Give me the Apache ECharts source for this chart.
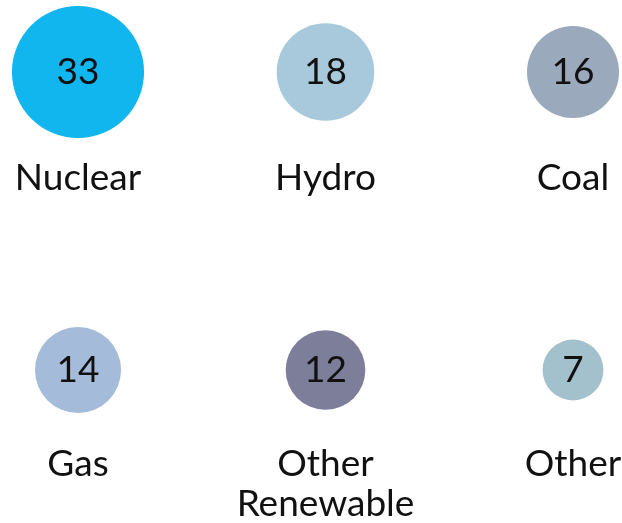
<!DOCTYPE html>
<html>
<head>
<meta charset="utf-8">
<script src="https://cdn.jsdelivr.net/npm/echarts@6/dist/echarts.min.js"></script>
<style>html,body{margin:0;padding:0;background:#fff}#c{width:622px;height:523px}</style>
</head>
<body>
<div id="c"></div>
<script>
const names = ['Nuclear', 'Hydro', 'Coal', 'Gas', 'Other\nRenewable', 'Other'];
const values = [33, 18, 16, 14, 12, 7];
const colors = ['#12b6ef', '#a7c9db', '#9aa9bc', '#a4bbda', '#7c7e9a', '#a3c0cd'];
const columns = ['c1', 'c2', 'c3'];
const rows = ['r1', 'r2'];

const font = 'Lato, "Noto Sans", sans-serif';
const nameOffsets = [86, 74];

const circleData = values.map((v, i) => ({
  value: [columns[i % 3], rows[Math.floor(i / 3)], v],
  itemStyle: { color: colors[i], opacity: 1 }
}));
const nameData = values.map((v, i) => ({
  value: [columns[i % 3], rows[Math.floor(i / 3)], v],
  label: { offset: [0, nameOffsets[Math.floor(i / 3)]] },
  name: names[i]
}));

const chart = echarts.init(document.getElementById('c'), null, { renderer: 'canvas' });
chart.setOption({
  animation: false,
  backgroundColor: '#ffffff',
  grid: { left: 78, right: 49, top: 72, bottom: 153 },
  xAxis: { type: 'category', data: columns, boundaryGap: false, show: false },
  yAxis: { type: 'category', data: rows, boundaryGap: false, inverse: true, show: false },
  series: [
    {
      type: 'scatter',
      data: circleData,
      symbol: 'circle',
      symbolSize: d => 23 * Math.sqrt(d[2]),
      itemStyle: { opacity: 1 },
      label: {
        show: true, position: 'inside',
        formatter: p => p.value[2],
        color: '#111111', fontFamily: font, fontSize: 37
      },
      z: 2
    },
    {
      type: 'scatter',
      data: nameData,
      symbolSize: 0,
      silent: true,
      itemStyle: { opacity: 1 },
      label: {
        show: true, position: 'inside',
        verticalAlign: 'top', align: 'center',
        formatter: p => p.name,
        color: '#111111', fontFamily: font, fontSize: 37, lineHeight: 40
      },
      z: 3
    }
  ]
});
</script>
</body>
</html>
